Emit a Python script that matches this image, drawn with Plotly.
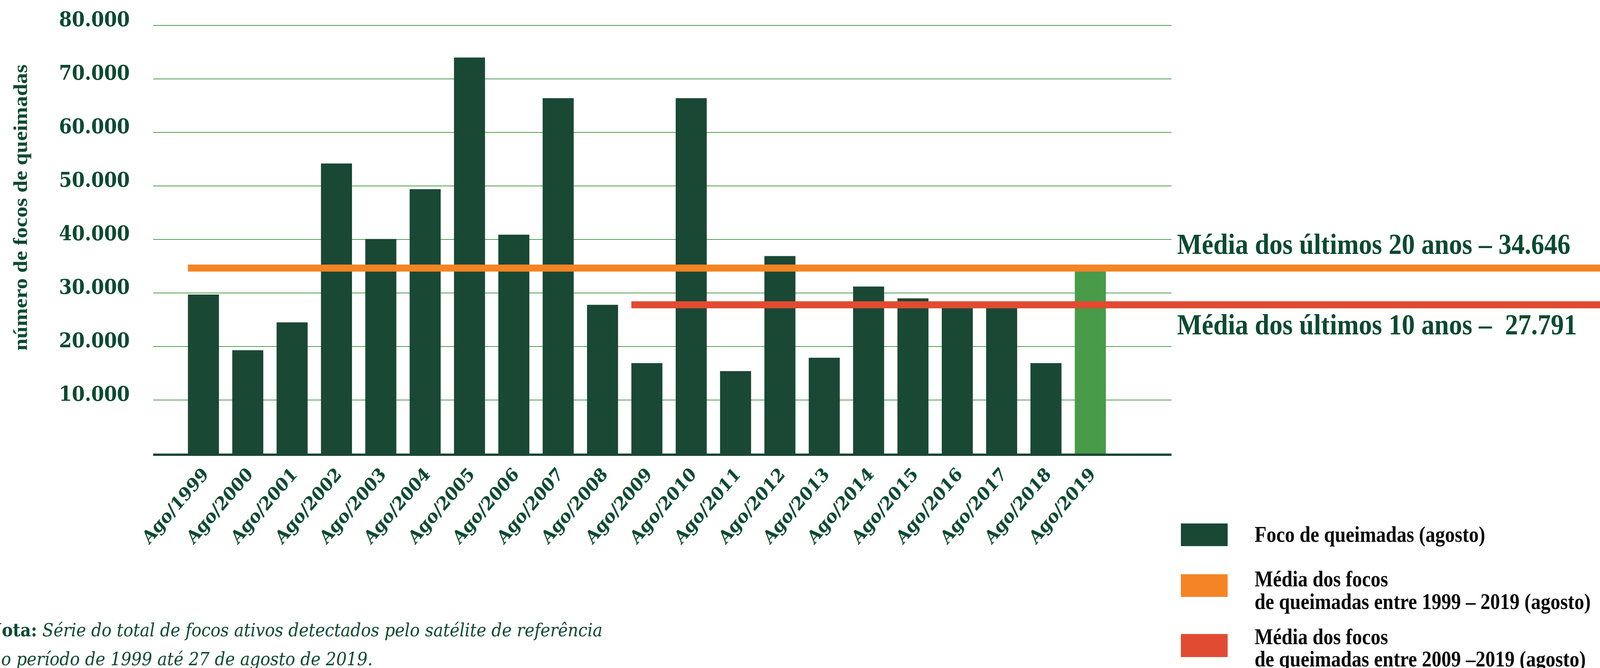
import plotly.graph_objects as go

# ---------------- data ----------------
categorias = ["Ago/1999", "Ago/2000", "Ago/2001", "Ago/2002", "Ago/2003", "Ago/2004",
              "Ago/2005", "Ago/2006", "Ago/2007", "Ago/2008", "Ago/2009", "Ago/2010",
              "Ago/2011", "Ago/2012", "Ago/2013", "Ago/2014", "Ago/2015", "Ago/2016",
              "Ago/2017", "Ago/2018", "Ago/2019"]
focos = [29700, 19300, 24500, 54200, 40100, 49400, 74000, 40900, 66400, 27800, 16900,
         66400, 15400, 36900, 17900, 31200, 29000, 27800, 27800, 16900, 34700]
media_20_anos = 34646
media_10_anos = 27791
inicio_media_10 = "Ago/2009"
tick_vals = [10000, 20000, 30000, 40000, 50000, 60000, 70000, 80000]
tick_text = ["10.000", "20.000", "30.000", "40.000", "50.000", "60.000", "70.000", "80.000"]

# ---------------- style ----------------
W, H = 4585, 1710
PL, PR, PT, PB = 439, 3357, 20, 1161
DARK = "#194834"
LIGHT = "#489b48"
ORANGE = "#f48424"
RED = "#e14b32"
TXT = "#0b4a32"
GRID = "#4c9e50"
X_RANGE = [-1.133, 21.83]
Y_MAX = 83285
BAR_W = 0.70

def pxx(x):
    return (x - PL) / (PR - PL)

def pxy(y):
    return (PB - y) / (PB - PT)

def cat_paper(idx):
    return (idx - X_RANGE[0]) / (X_RANGE[1] - X_RANGE[0])

bar_colors = [DARK] * (len(categorias) - 1) + [LIGHT]

fig = go.Figure()
fig.add_trace(go.Bar(
    x=categorias, y=focos, marker=dict(color=bar_colors, line=dict(width=0)),
    width=BAR_W, showlegend=False, hoverinfo="skip",
))

shapes = []
# average lines (drawn above bars, extending to the right edge of the page)
shapes.append(dict(type="line", xref="paper", yref="y",
                   x0=cat_paper(0 - BAR_W / 2), x1=pxx(W + 10),
                   y0=media_20_anos, y1=media_20_anos,
                   line=dict(color=ORANGE, width=18), layer="above"))
i10 = categorias.index(inicio_media_10)
shapes.append(dict(type="line", xref="paper", yref="y",
                   x0=cat_paper(i10 - BAR_W / 2), x1=pxx(W + 10),
                   y0=media_10_anos, y1=media_10_anos,
                   line=dict(color=RED, width=18), layer="above"))

# legend swatches
for (y0, y1, col) in [(1340, 1398, DARK), (1470, 1528, ORANGE), (1623, 1682, RED)]:
    shapes.append(dict(type="rect", xref="paper", yref="paper",
                       x0=pxx(3384), x1=pxx(3518), y0=pxy(y1), y1=pxy(y0),
                       fillcolor=col, line=dict(width=0)))

ann = []
# y-axis title
ann.append(dict(text="número de focos de queimadas", xref="paper", yref="paper",
                x=pxx(58), y=pxy(532), xanchor="center", yanchor="middle",
                textangle=-90, showarrow=False,
                font=dict(family="Liberation Serif", size=56, color=TXT, weight="bold")))
# average labels
ann.append(dict(text="Média dos últimos 20 anos – 34.646", xref="paper", yref="y",
                x=pxx(3371), y=media_20_anos, yshift=62, xanchor="left", yanchor="middle",
                showarrow=False,
                font=dict(family="Liberation Serif", size=75, color=TXT, weight="bold")))
ann.append(dict(text="Média dos últimos 10 anos –\u00a0 27.791", xref="paper", yref="y",
                x=pxx(3371), y=media_10_anos, yshift=-50, xanchor="left", yanchor="middle",
                showarrow=False,
                font=dict(family="Liberation Serif", size=75, color=TXT, weight="bold")))
# legend texts
leg_font = dict(family="Liberation Serif", size=56, color="#0a0a0a", weight="bold")
for txt, yc in [("Foco de queimadas (agosto)", 1368),
                ("Média dos focos", 1482),
                ("de queimadas entre 1999 – 2019 (agosto)", 1540),
                ("Média dos focos", 1630),
                ("de queimadas entre 2009 –2019 (agosto)", 1687)]:
    ann.append(dict(text=txt, xref="paper", yref="paper", x=pxx(3593), y=pxy(yc),
                    xanchor="left", yanchor="middle", showarrow=False, font=leg_font))
# footnote
ann.append(dict(text="<b>Nota:</b> <i>Série do total de focos ativos detectados pelo satélite de referência</i>",
                xref="paper", yref="paper", x=pxx(-40), y=pxy(1612),
                xanchor="left", yanchor="middle", showarrow=False,
                font=dict(family="DejaVu Serif", size=47, color=TXT)))
ann.append(dict(text="<i>no período de 1999 até 27 de agosto de 2019.</i>",
                xref="paper", yref="paper", x=pxx(-29), y=pxy(1686),
                xanchor="left", yanchor="middle", showarrow=False,
                font=dict(family="DejaVu Serif", size=47, color=TXT)))

fig.update_layout(
    width=W, height=H,
    margin=dict(l=PL, r=W - PR, t=PT, b=H - PB, pad=0, autoexpand=False),
    paper_bgcolor="white", plot_bgcolor="white",
    shapes=shapes, annotations=ann, bargap=0.3,
    xaxis=dict(range=X_RANGE, type="category", showgrid=False, zeroline=False,
               showline=True, linecolor=DARK, linewidth=6,
               tickangle=-46, ticks="",
               tickfont=dict(family="DejaVu Serif", size=47, color=TXT, weight="bold")),
    yaxis=dict(range=[0, Y_MAX], tickvals=tick_vals, ticktext=tick_text,
               showgrid=True, gridcolor=GRID, gridwidth=2, zeroline=False,
               showline=False, ticks="", ticklabelstandoff=66, ticklabelshift=-17,
               tickfont=dict(family="DejaVu Serif", size=53, color=TXT, weight="bold")),
)

fit_js = (
    "document.documentElement.style.margin='0';"
    "document.body.style.margin='0';"
    "document.body.style.overflow='hidden';"
    "document.documentElement.style.overflow='hidden';"
    "var gd=document.getElementById('{plot_id}');"
    "var sx=window.innerWidth/4585, sy=window.innerHeight/1710;"
    "gd.style.transformOrigin='0 0';"
    "gd.style.transform='scale('+sx+','+sy+')';"
)
fig.write_html("out.html", config={"displayModeBar": False}, post_script=fit_js)
